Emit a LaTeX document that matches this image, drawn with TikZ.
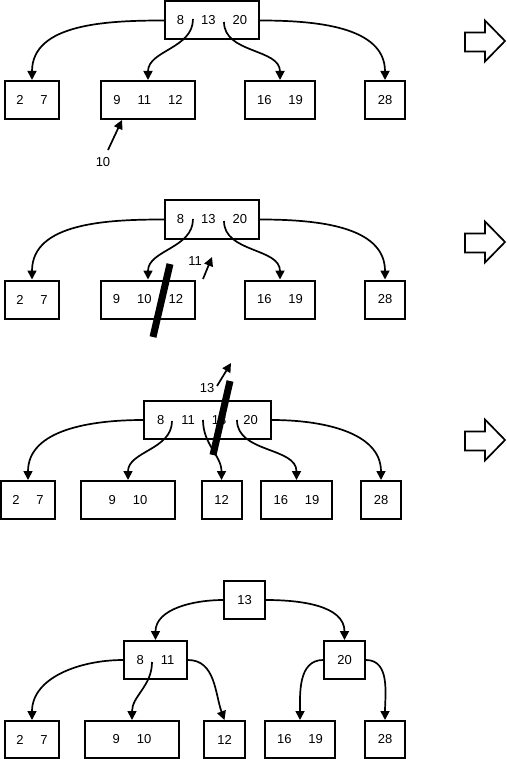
\documentclass[tikz,border=0pt]{standalone}
\usepackage{fontspec}
\setmainfont{Liberation Sans}
\usetikzlibrary{arrows.meta}
\newcommand{\kgap}{\hspace{17pt}}

\tikzset{
  keybox/.style={draw, line width=2pt, inner sep=0pt, minimum height=38pt},
  ptr/.style={line width=1.7pt, -{Triangle[length=9pt,width=9pt]}},
  cutmark/.style={line width=7pt},
  shiftarrow/.style={draw, line width=1.7pt, fill=white},
  every node/.style={font=\fontsize{13}{15}\selectfont}
}

\begin{document}
\begin{tikzpicture}[x=1pt, y=-1pt]
  \useasboundingbox (0,0) rectangle (506,759);

  % step 1: insert 10
  \node[keybox, minimum width=94pt] (rootA) at (212,20.5) {8\kgap13\kgap20};
  \node[keybox, minimum width=54pt] (leafA1) at (32,100) {2\kgap7};
  \node[keybox, minimum width=94pt] (leafA2) at (148,100) {9\kgap11\kgap12};
  \node[keybox, minimum width=70pt] (leafA3) at (280,100) {16\kgap19};
  \node[keybox, minimum width=40pt] (leafA4) at (385,100) {28};
  \coordinate (rootAp1) at (193,19);
  \coordinate (rootAp2) at (224,22);
  \draw[ptr] (rootA.west) to[out=180, in=90] (leafA1.north);
  \draw[ptr] (rootAp1) to[out=-90, in=90] (leafA2.north);
  \draw[ptr] (rootAp2) to[out=-90, in=90] (leafA3.north);
  \draw[ptr] (rootA.east) to[out=0, in=90] (leafA4.north);
  \node[inner sep=1pt] (lblTen) at (103,162) {10};
  \coordinate (tenTail) at (108,150);
  \draw[ptr] (tenTail) -- ([xshift=22pt]leafA2.south west);

  % step 2: split the leaf
  \node[keybox, minimum width=94pt] (rootB) at (212,219.5) {8\kgap13\kgap20};
  \node[keybox, minimum width=54pt] (leafB1) at (32,299.5) {2\kgap7};
  \node[keybox, minimum width=94pt] (leafB2) at (148,299.5) {9\kgap10\kgap12};
  \node[keybox, minimum width=70pt] (leafB3) at (280,299.5) {16\kgap19};
  \node[keybox, minimum width=40pt] (leafB4) at (385,299.5) {28};
  \coordinate (rootBp1) at (193,219);
  \coordinate (rootBp2) at (224,221);
  \draw[ptr] (rootB.west) to[out=180, in=90] (leafB1.north);
  \draw[ptr] (rootBp1) to[out=-90, in=90] (leafB2.north);
  \draw[ptr] (rootBp2) to[out=-90, in=90] (leafB3.north);
  \draw[ptr] (rootB.east) to[out=0, in=90] (leafB4.north);
  \draw[cutmark] (153,337) -- (170,264);
  \node[inner sep=1pt] (lblEleven) at (195,261) {11};
  \coordinate (elevenTail) at (203,279);
  \coordinate (elevenTip) at (212,257);
  \draw[ptr] (elevenTail) -- (elevenTip);

  % step 3: split the root
  \node[keybox, minimum width=127pt] (rootC) at (207.5,420) {8\kgap11\kgap13\kgap20};
  \node[keybox, minimum width=54pt] (leafC1) at (28,500) {2\kgap7};
  \node[keybox, minimum width=94pt] (leafC2) at (128,500) {9\kgap10};
  \node[keybox, minimum width=40pt] (leafC3) at (221.5,500) {12};
  \node[keybox, minimum width=71pt] (leafC4) at (296.5,500) {16\kgap19};
  \node[keybox, minimum width=40pt] (leafC5) at (381,500) {28};
  \coordinate (rootCp1) at (172,421);
  \coordinate (rootCp2) at (203,420);
  \coordinate (rootCp3) at (237,420);
  \draw[ptr] (rootC.west) to[out=180, in=90] (leafC1.north);
  \draw[ptr] (rootCp1) to[out=-90, in=90] (leafC2.north);
  \draw[ptr] (rootCp2) to[out=-90, in=90] (leafC3.north);
  \draw[ptr] (rootCp3) to[out=-90, in=90] (leafC4.north);
  \draw[ptr] (rootC.east) to[out=0, in=90] (leafC5.north);
  \draw[cutmark] (213,455) -- (230,381);
  \node[inner sep=1pt] (lblThirteen) at (207,388) {13};
  \coordinate (thirteenTail) at (217,386);
  \coordinate (thirteenTip) at (231,363);
  \draw[ptr] (thirteenTail) -- (thirteenTip);

  % result
  \node[keybox, minimum width=41pt] (rootD) at (244.5,600) {13};
  \node[keybox, minimum width=63pt] (midD1) at (155.5,660) {8\kgap11};
  \node[keybox, minimum width=41pt] (midD2) at (344.5,660) {20};
  \node[keybox, minimum width=54pt, minimum height=37pt] (leafD1) at (32,739.5) {2\kgap7};
  \node[keybox, minimum width=94pt, minimum height=37pt] (leafD2) at (132,739.5) {9\kgap10};
  \node[keybox, minimum width=41pt, minimum height=37pt] (leafD3) at (224.5,739.5) {12};
  \node[keybox, minimum width=70pt, minimum height=37pt] (leafD4) at (300,739.5) {16\kgap19};
  \node[keybox, minimum width=40pt, minimum height=37pt] (leafD5) at (385,739.5) {28};
  \coordinate (midD1p1) at (152,662);
  \draw[ptr] (rootD.west) to[out=180, in=90] (midD1.north);
  \draw[ptr] (rootD.east) to[out=0, in=90] (midD2.north);
  \draw[ptr] (midD1.west) to[out=180, in=90] (leafD1.north);
  \draw[ptr] (midD1p1) to[out=-90, in=90] (leafD2.north);
  \draw[ptr] (midD1.east) to[out=0, in=110] (leafD3.north);
  \draw[ptr] (midD2.west) to[out=180, in=90] (leafD4.north);
  \draw[ptr] (midD2.east) to[out=0, in=90] (leafD5.north);

  % block arrows between the steps
  \foreach \dy in {20.5,221.5,419.5}
    \draw[shiftarrow] (465,\dy+12) -- (485,\dy+12) -- (485,\dy) -- (505,\dy+20.5)
      -- (485,\dy+41) -- (485,\dy+31) -- (465,\dy+31) -- cycle;
\end{tikzpicture}
\end{document}
